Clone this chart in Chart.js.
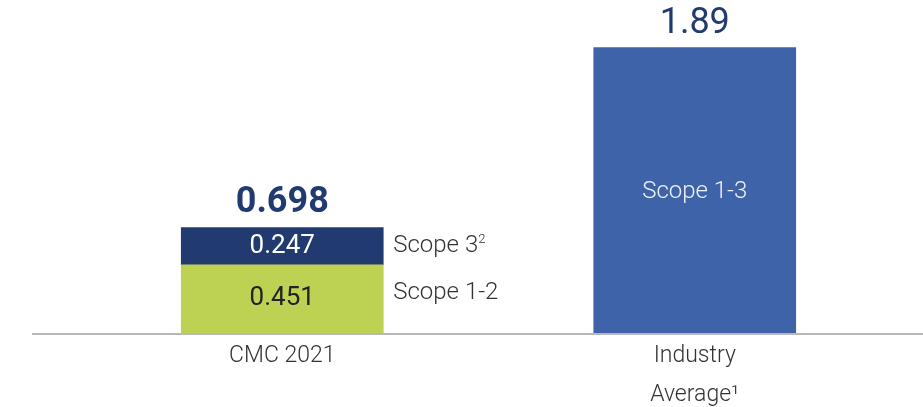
<!DOCTYPE html>
<html>
<head>
<meta charset="utf-8">
<script src="https://cdn.jsdelivr.net/npm/chart.js@4.4.0/dist/chart.umd.min.js"></script>
<style>
  html, body { margin: 0; padding: 0; background: #fff; }
  #wrap { width: 923px; height: 407px; }
</style>
</head>
<body>
<div id="wrap"><canvas id="chart" width="923" height="407"></canvas></div>
<script>
// data
var categories = [['CMC 2021'], ['Industry', 'Average\u00b9']];
var scope12 = [0.451, null];
var scope3 = [0.247, null];
var scope13 = [null, 1.89];
var seriesNames = ['Scope 1-2', 'Scope 3', 'Scope 1-3'];

var navy = '#213B70';
var green = '#BDD153';
var blue = '#3F63A9';

// labels on and next to the bars
var barLabels = {
    id: 'barLabels',
    afterDatasetsDraw: function (chart) {
        var ctx = chart.ctx;
        var g = chart.getDatasetMeta(0).data[0];
        var n = chart.getDatasetMeta(1).data[0];
        var b = chart.getDatasetMeta(2).data[1];
        var y0 = chart.scales.y.getPixelForValue(0);

        ctx.save();
        // baseline
        ctx.strokeStyle = '#b8b8b8';
        ctx.lineWidth = 2;
        ctx.beginPath();
        ctx.moveTo(32, y0 + 1);
        ctx.lineTo(chart.width, y0 + 1);
        ctx.stroke();

        ctx.textAlign = 'center';
        ctx.textBaseline = 'middle';

        // values inside the stacked bar
        ctx.font = '400 26px Roboto';
        ctx.fillStyle = '#222';
        ctx.fillText(String(scope12[0]), g.x, (g.y + g.base) / 2);
        ctx.fillStyle = '#fff';
        ctx.fillText(String(scope3[0]), n.x, (n.y + n.base) / 2);

        // total
        ctx.font = '700 36px Roboto';
        ctx.fillStyle = navy;
        ctx.fillText((scope12[0] + scope3[0]).toFixed(3), n.x, n.y - 25);

        // series names at the side
        ctx.textAlign = 'left';
        ctx.fillStyle = '#333';
        ctx.font = '300 24px Roboto';
        var sx = n.x + n.width / 2 + 10;
        ctx.fillText('Scope 3', sx, (n.y + n.base) / 2);
        var w = ctx.measureText('Scope 3').width;
        ctx.font = '300 13px Roboto';
        ctx.fillText('2', sx + w, (n.y + n.base) / 2 - 7);
        ctx.font = '300 24px Roboto';
        ctx.fillText(seriesNames[0], sx, (g.y + g.base) / 2 - 6);

        // industry average
        ctx.textAlign = 'center';
        ctx.font = '400 36px Roboto';
        ctx.fillStyle = navy;
        ctx.fillText(String(scope13[1]), b.x, b.y - 24);
        ctx.font = '300 24px Roboto';
        ctx.fillStyle = '#eef2fa';
        ctx.fillText(seriesNames[2], b.x, b.y + 144);
        ctx.restore();
    }
};

var ctx = document.getElementById('chart').getContext('2d');
new Chart(ctx, {
    type: 'bar',
    data: {
        labels: categories,
        datasets: [
            { label: seriesNames[0], data: scope12, backgroundColor: green },
            { label: seriesNames[1], data: scope3, backgroundColor: navy },
            { label: seriesNames[2], data: scope13, backgroundColor: blue }
        ]
    },
    options: {
        responsive: false,
        animation: false,
        barThickness: 202,
        layout: { padding: { left: 76, right: 22, top: 31, bottom: 0 } },
        scales: {
            x: {
                stacked: true,
                grid: { display: false, drawTicks: false },
                border: { display: false },
                ticks: {
                    padding: 3,
                    color: '#333',
                    font: { family: 'Roboto', size: 23, weight: '300', lineHeight: 1.72 }
                },
                afterFit: function (s) { s.height = 74; }
            },
            y: {
                stacked: true,
                display: false,
                min: 0,
                max: 2
            }
        },
        plugins: {
            legend: { display: false },
            tooltip: { enabled: false }
        }
    },
    plugins: [barLabels]
});
</script>
</body>
</html>
